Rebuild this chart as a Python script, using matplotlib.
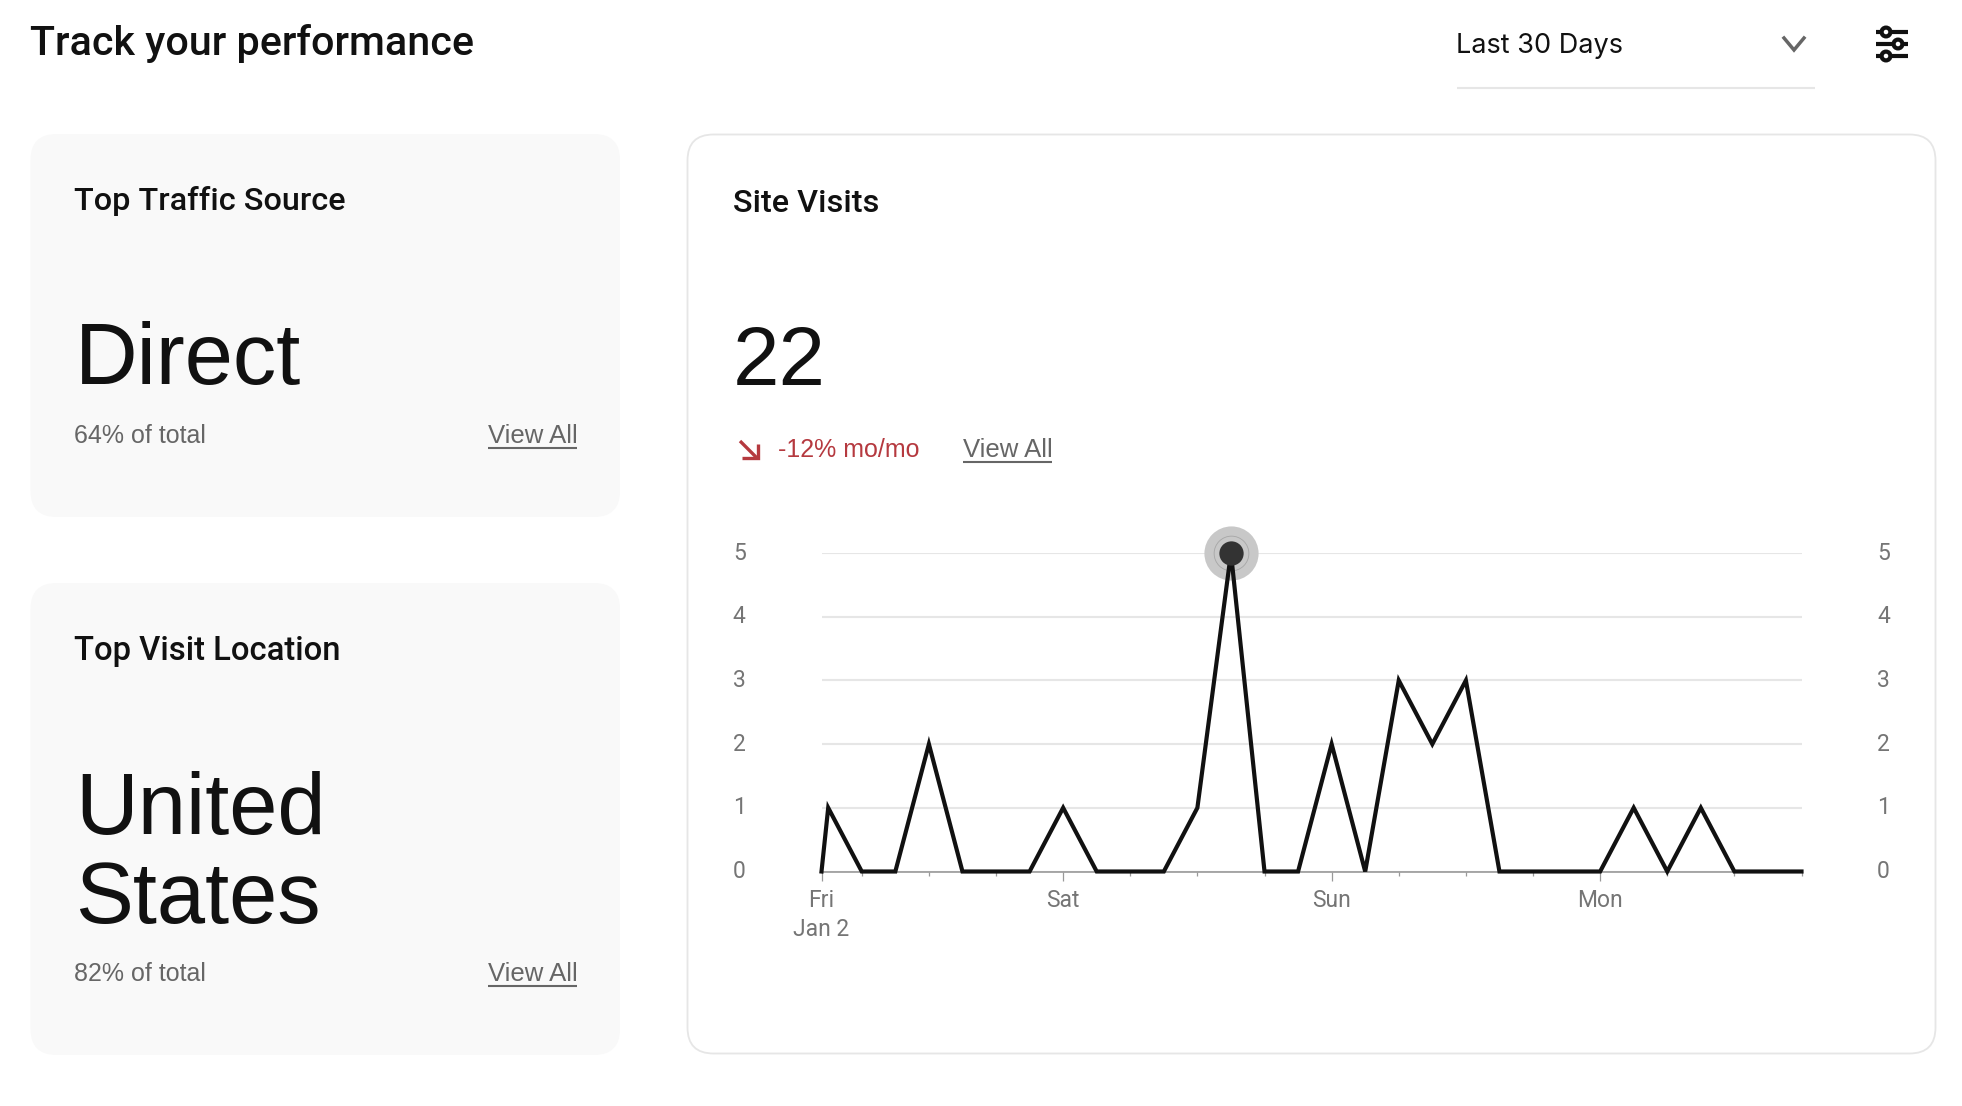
import matplotlib
matplotlib.use("Agg")
import matplotlib.pyplot as plt
from matplotlib.patches import FancyBboxPatch, Circle
from matplotlib.transforms import ScaledTranslation

# hours counted from Friday 00:00
hours = [2.4, 3, 6, 9, 12, 15, 18, 21, 24, 27, 30, 33, 36, 39, 42, 45, 48, 51, 54, 57, 60, 63, 66, 69, 72, 75, 78, 81, 84, 87, 90]
visits = [0, 1, 0, 0, 2, 0, 0, 0, 1, 0, 0, 0, 1, 5, 0, 0, 2, 0, 3, 2, 3, 0, 0, 0, 0, 1, 0, 1, 0, 0, 0]

day_ticks = [2.4, 24, 48, 72]
day_labels = ["Fri\nJan 2", "Sat", "Sun", "Mon"]
small_ticks = [6, 12, 18, 30, 36, 42, 54, 60, 66, 78, 84, 90]
y_ticks = [0, 1, 2, 3, 4, 5]

W, H = 1962, 1106
INK = "#111111"
GRAY = "#666666"
TICK = "#757575"
RED = "#B5393F"
LINE = "#E6E6E6"
CARD = "#F9F9F9"
HEAD = ["Roboto", "DejaVu Sans"]
BODY = ["Liberation Sans", "DejaVu Sans"]

plt.rcParams["font.family"] = ["Inter", "Liberation Sans", "DejaVu Sans"]

fig = plt.figure(figsize=(W / 100, H / 100), dpi=100, facecolor="white")

# page layer in pixel coordinates
bg = fig.add_axes([0, 0, 1, 1])
bg.set_xlim(0, W)
bg.set_ylim(H, 0)
bg.axis("off")


def card(x0, y0, x1, y1, face, edge, lw):
    bg.add_patch(FancyBboxPatch((x0 + 26, y0 + 26), x1 - x0 - 52, y1 - y0 - 52,
                                boxstyle="round,pad=26,rounding_size=26",
                                fc=face, ec=edge, lw=lw))


def label(x, y, s, size, color=INK, **kw):
    return bg.text(x, y, s, fontsize=size, color=color, va="baseline", **kw)


def link(x0, x1, y):
    label(x0, y, "View All", 18.5, GRAY, family=BODY)
    bg.plot([x0, x1], [y + 4.5, y + 4.5], color=GRAY, lw=1.5, solid_capstyle="butt")


card(30.5, 134, 620, 517, CARD, CARD, 0)
card(30.5, 583, 620, 1055, CARD, CARD, 0)
card(687.5, 134.5, 1935.5, 1053.5, "white", "#E6E6E6", 1.3)

# header
label(30, 55, "Track your performance", 29.7, weight="medium", family=HEAD)
label(1456, 53, "Last 30 Days", 19.5)
bg.plot([1457, 1815], [88, 88], color=LINE, lw=1.5, solid_capstyle="butt")
bg.plot([1784, 1794, 1804], [38, 50, 38], color=GRAY, lw=2.5, solid_joinstyle="miter")
for yy, xc in [(32, 1886), (44, 1898), (56, 1886)]:
    bg.plot([1876, 1908], [yy, yy], color=INK, lw=3, solid_capstyle="butt")
    bg.add_patch(Circle((xc, yy), 4.4, fc="white", ec=INK, lw=3, zorder=3))

# left cards
label(74, 210, "Top Traffic Source", 23.3, weight="medium", family=HEAD)
label(75, 384, "Direct", 62.5, family=BODY)
label(74, 443, "64% of total", 18, GRAY, family=BODY)
link(488, 577, 443)

label(74, 660, "Top Visit Location", 23.6, weight="medium", family=HEAD)
label(75, 834, "United", 62.5, family=BODY)
label(75, 923, "States", 62.5, family=BODY)
label(74, 981, "82% of total", 18, GRAY, family=BODY)
link(488, 577, 981)

# right card
label(733, 212, "Site Visits", 23.3, weight="medium", family=HEAD)
label(733, 385, "22", 60, family=BODY)
bg.plot([740, 757], [441, 458], color=RED, lw=2.4, solid_capstyle="butt")
bg.plot([758, 758, 742], [444, 458, 458], color=RED, lw=2.4, solid_joinstyle="miter", solid_capstyle="butt")
label(778, 457, "-12% mo/mo", 18, RED, family=BODY)
link(963, 1052, 457)

# chart
ax_l, ax_r, ax_t, ax_b = 821.5, 1801.5, 553, 871.5
ax = fig.add_axes([ax_l / W, 1 - ax_b / H, (ax_r - ax_l) / W, (ax_b - ax_t) / H])
ax.patch.set_alpha(0)
ax.set_xlim(2.4, 90)
ax.set_ylim(0, 5)
for s in ["top", "left", "right"]:
    ax.spines[s].set_visible(False)
ax.spines["bottom"].set_color("#999999")
ax.spines["bottom"].set_linewidth(1.2)

ax.set_yticks(y_ticks)
ax.yaxis.grid(True, color=LINE, lw=1.5)
ax.set_axisbelow(True)
ax.tick_params(axis="y", length=0, pad=54.5, labelsize=16.5, labelcolor=TICK, labelleft=True, labelright=True)
lift = ScaledTranslation(0, 2.5 / 100, fig.dpi_scale_trans)
for t in ax.get_yticklabels():
    t.set_family(["Roboto", "DejaVu Sans"])
for t in ax.yaxis.get_majorticklabels():
    t.set_transform(t.get_transform() + lift)

ax.set_xticks(day_ticks)
ax.set_xticklabels(day_labels, linespacing=1.35, family=["Roboto", "DejaVu Sans"])
ax.set_xticks(small_ticks, minor=True)
ax.tick_params(axis="x", which="major", length=6.5, width=0.9, color="#999999", pad=5.8, labelsize=16.5, labelcolor=TICK)
ax.tick_params(axis="x", which="minor", length=3, width=0.9, color="#999999")

peak = visits.index(max(visits))
ax.plot(hours[peak], visits[peak], "o", ms=39, mfc="#C8C8C8", mec="none", clip_on=False, zorder=2)
ax.plot(hours[peak], visits[peak], "o", ms=25, mfc="none", mec="#A6A6A6", mew=0.6, clip_on=False, zorder=2.5)
ax.plot(hours, visits, color=INK, lw=3, clip_on=False, solid_joinstyle="miter", zorder=3)
ax.plot(hours[peak], visits[peak], "o", ms=17.5, mfc="#333333", mec="none", clip_on=False, zorder=6)

fig.savefig("out.png", dpi=100)
